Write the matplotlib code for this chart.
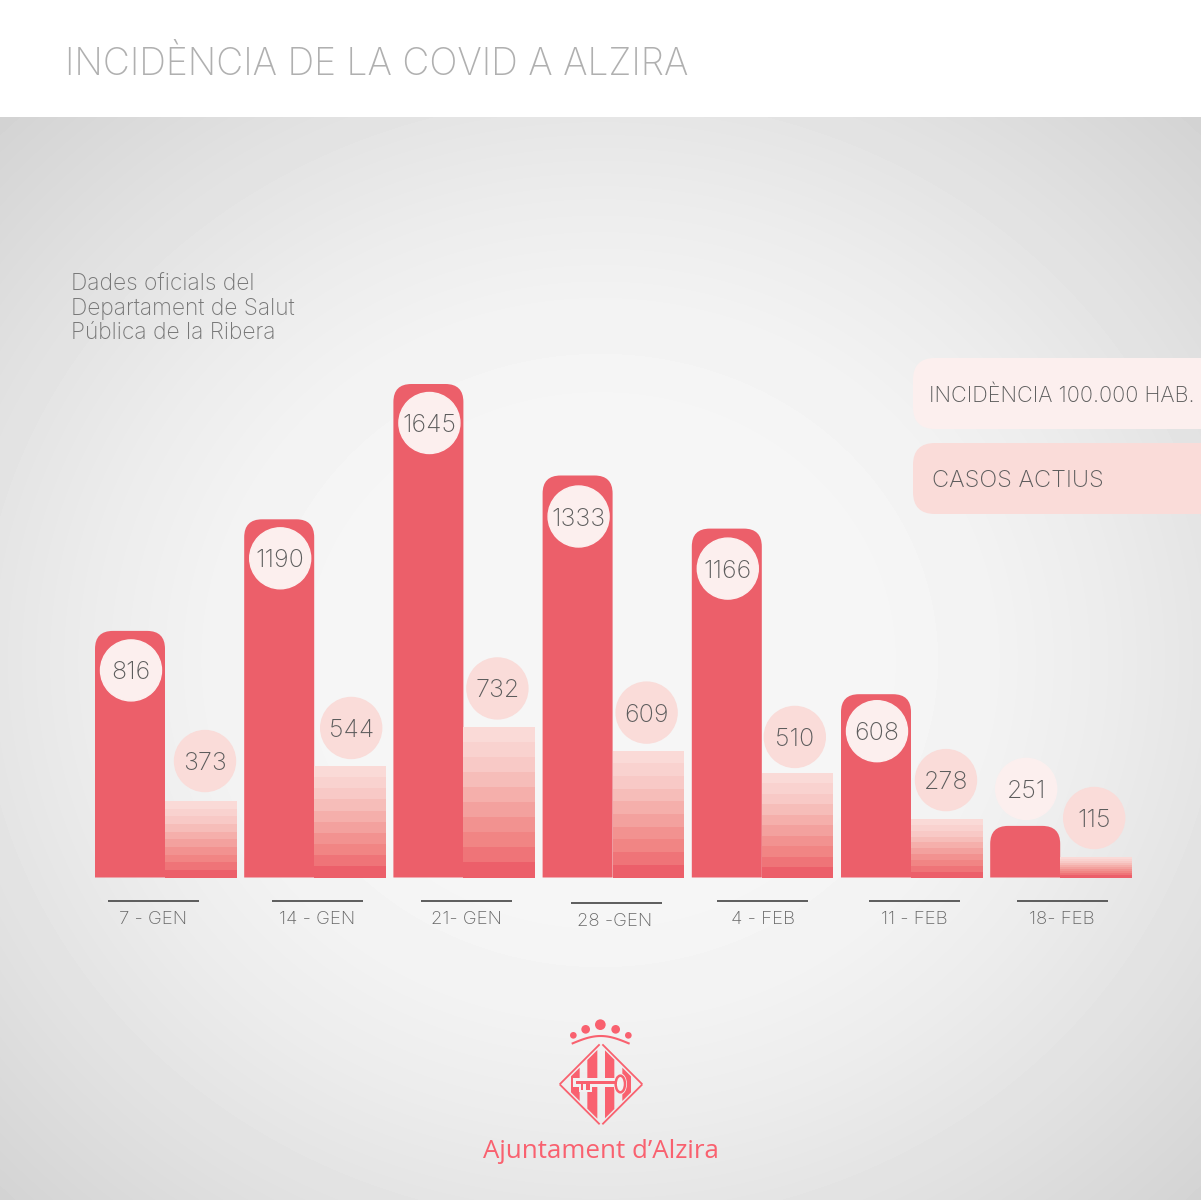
import matplotlib
matplotlib.use("Agg")
import matplotlib.pyplot as plt
from matplotlib.patches import Circle, FancyBboxPatch, PathPatch, Polygon, Ellipse, Rectangle
from matplotlib.path import Path
from matplotlib.transforms import IdentityTransform
import numpy as np

# what the picture says
dates = ["7 - GEN", "14 - GEN", "21- GEN", "28 -GEN", "4 - FEB", "11 - FEB", "18- FEB"]
incidencia = [816, 1190, 1645, 1333, 1166, 608, 251]
casos = [373, 544, 732, 609, 510, 278, 115]
# heights as drawn (the last bars are not to scale in the original)
incidencia_drawn = [822, 1194, 1645, 1340, 1163, 611, 172]
casos_drawn = [373, 544, 732, 619, 510, 285, 100]

RED = "#EC5F6A"
PALE = "#FCEFEE"
PINK = "#FADCD9"
GREY = "#5C5C5C"
LOGO = "#F9616F"
FONT = "Inter"
bands = ["#EC5F6A", "#EF7478", "#F18584", "#F29290", "#F3A19E",
         "#F5AFAB", "#F6BDB9", "#F8C9C6", "#F9D2CF", "#FADAD7"]

W, H = 1201, 1200
BASE = 877.5
PITCH = 149.2
fig = plt.figure(figsize=(W / 100, H / 100), dpi=100, facecolor="white")

# background + everything placed in pixels
bg = fig.add_axes([0, 0, 1, 1], zorder=0)
yy, xx = np.mgrid[117:H, 0:W]
d = np.hypot((xx - 600) / 600, (yy - 660) / 545) / np.sqrt(2)
shade = np.interp(d, [0, 0.3, 0.45, 0.6, 0.8, 1.0], [246, 246, 243, 236, 224, 211]) / 255
bg.imshow(shade, cmap="gray", vmin=0, vmax=1, extent=(0, W, H, 117), aspect="auto",
          interpolation="bilinear", zorder=0)
bg.set_xlim(0, W)
bg.set_ylim(H, 0)
bg.axis("off")

# bar axes share the baseline, different scale each
left = 95
ax = fig.add_axes([left / W, (H - BASE) / H, (1132 - left) / W, (BASE - 117) / H], zorder=1)
ax.set_xlim(0, (1132 - left) / PITCH)
ax.set_ylim(0, (BASE - 117) / 0.3)
ax.axis("off")
ax2 = ax.twinx()
ax2.set_ylim(0, (BASE - 117) / 0.205)
ax2.axis("off")


def rounded_bar(axes, x, w, h, rx, ry):
    verts = [(x, 0), (x, h - ry), (x, h), (x + rx, h), (x + w - rx, h), (x + w, h), (x + w, h - ry), (x + w, 0), (x, 0)]
    codes = [Path.MOVETO, Path.LINETO, Path.CURVE3, Path.CURVE3, Path.LINETO, Path.CURVE3, Path.CURVE3, Path.LINETO, Path.CLOSEPOLY]
    axes.add_patch(PathPatch(Path(verts, codes), facecolor=RED, edgecolor="none"))


bar_w = 70 / PITCH
cas_w = 71.5 / PITCH
for i in range(len(dates)):
    rounded_bar(ax, i, bar_w, incidencia_drawn[i], 18 / PITCH, 18 / 0.3)
    step = casos_drawn[i] / len(bands)
    for j, c in enumerate(bands):
        ax2.bar(i + bar_w, step, width=cas_w, bottom=j * step, align="edge", color=c, linewidth=0)

fig.canvas.draw()


def top_px(axes, x, h):
    return H - axes.transData.transform((x, h))[1]


def bubble(x, y, col, val):
    ax2.add_artist(Circle((x, H - y), 30.5, color=col, transform=IdentityTransform(), zorder=5, clip_on=False))
    ax2.text(x, H - y, str(val), transform=IdentityTransform(), ha="center", va="center_baseline",
             fontsize=18, color=GREY, family=FONT, weight="light", zorder=6)


# value bubbles, offsets from the bar tops vary a little per group
inc_gap = [39.5, 39, 39, 41, 40, 37, -37]
cas_gap = [40, 38, 39, 38, 36, 39, 39]
cas_dx = [110, 107, 104, 104, 103, 105, 104]
for i in range(len(dates)):
    x0 = left + i * PITCH
    bubble(x0 + 36, top_px(ax, i, incidencia_drawn[i]) + inc_gap[i], PALE, incidencia[i])
    bubble(x0 + cas_dx[i], top_px(ax2, i, casos_drawn[i]) - cas_gap[i], PINK, casos[i])

# date ticks
tick_left = [108, 272, 421, 570.5, 717, 869, 1017]
label_x = [153, 317, 466, 615, 763, 914, 1062]
for i, lab in enumerate(dates):
    dy = 2 if i == 3 else 0
    bg.plot([tick_left[i], tick_left[i] + 91], [901 + dy, 901 + dy], color=GREY, lw=1.4, solid_capstyle="butt")
    bg.text(label_x[i], 920 + dy, lab, ha="center", va="center", fontsize=13.4, color="#666666", family=FONT, weight="light")

# title and note
bg.text(65, 65, "INCIDÈNCIA DE LA COVID A ALZIRA", ha="left", va="center", fontsize=26.8, color="#B0B0B0", family=FONT, weight="light")
for y, line in zip([284, 309, 333], ["Dades oficials del", "Departament de Salut", "Pública de la Ribera"]):
    bg.text(71, y, line, ha="left", va="center", fontsize=16.4, color="#777777", family=FONT, weight="light")

# legend boxes run off the right edge
for y0, col, txt, tx, fs in [(358, PALE, "INCIDÈNCIA 100.000 HAB.", 929, 15.6), (443, PINK, "CASOS ACTIUS", 932, 17)]:
    bg.add_patch(FancyBboxPatch((913 + 22, y0 + 22), 320, 71 - 44, boxstyle="round,pad=22,rounding_size=22", facecolor=col, edgecolor="none"))
    bg.text(tx, y0 + 38, txt, ha="left", va="center", fontsize=fs, color=GREY, family=FONT, weight="light")


# logo, coordinates taken from a zoomed crop
def lx(x):
    return 470 + x / 3


def ly(y):
    return 1010 + y / 3


for x, y, r in [(310, 76, 10), (347, 58, 13), (391, 44, 16), (437, 58, 13), (475, 76, 10)]:
    bg.add_patch(Circle((lx(x), ly(y)), r / 3, color=LOGO, lw=0))
t = np.linspace(0, 1, 30)
bg.plot(lx(308 + 168 * t), ly(100 - 22 * np.sin(np.pi * t)), color=LOGO, lw=1.5)

cx, cy_l, R = 393, 223, 122
for sx, sy in [(-1, -1), (1, -1), (-1, 1), (1, 1)]:
    bg.plot([lx(cx + sx * 6), lx(cx + sx * R)], [ly(cy_l + sy * (R - 4)), ly(cy_l + sy * 2)], color=LOGO, lw=1.3)


def stripe(x0, x1):
    # vertical band cut by the diamond
    h0 = 114 - abs(x0 - cx)
    h1 = 114 - abs(x1 - cx)
    pts = [(x0, cy_l - h0), (x1, cy_l - h1), (x1, cy_l + h1), (x0, cy_l + h0)]
    bg.add_patch(Polygon([(lx(a), ly(b)) for a, b in pts], color=LOGO, lw=0))


for a, b in [(303, 329), (352, 382), (405, 433), (457, 483)]:
    stripe(a, b)

# key over the stripes, with a light halo
halo = "#F2F2F2"
bg.add_patch(Rectangle((lx(308), ly(205)), 134 / 3, 26 / 3, color=halo, lw=0))
bg.add_patch(Rectangle((lx(326), ly(225)), 40 / 3, 22 / 3, color=halo, lw=0))
bg.add_patch(Ellipse((lx(451), ly(222)), 40 / 3, 64 / 3, color=halo, lw=0))
bg.add_patch(Rectangle((lx(318), ly(213)), 122 / 3, 9 / 3, color=LOGO, lw=0))
bg.add_patch(Rectangle((lx(332), ly(222)), 7 / 3, 18 / 3, color=LOGO, lw=0))
bg.add_patch(Rectangle((lx(347), ly(222)), 12 / 3, 18 / 3, color=LOGO, lw=0))
bg.add_patch(Ellipse((lx(451), ly(222)), 28 / 3, 50 / 3, facecolor="none", edgecolor=LOGO, lw=1.8))

bg.text(601, 1151, "Ajuntament d’Alzira", ha="center", va="center", fontsize=18.6, color=LOGO, family="Open Sans", weight="medium")

fig.savefig("out.png", dpi=100)
